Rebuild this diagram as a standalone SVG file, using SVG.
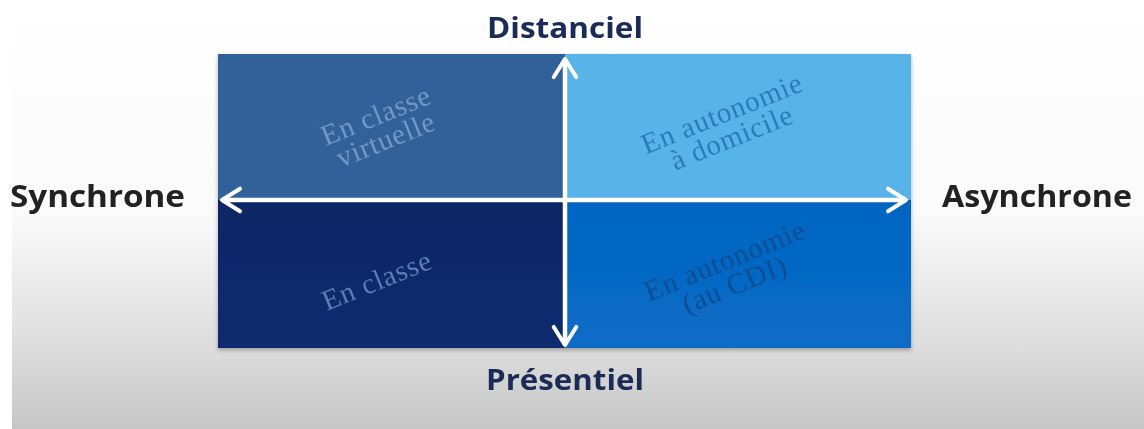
<svg xmlns="http://www.w3.org/2000/svg" width="1144" height="429" viewBox="0 0 1144 429">
<defs>
<linearGradient id="bg" x1="0" y1="0" x2="0" y2="1">
<stop offset="0" stop-color="#ffffff"/>
<stop offset="0.5" stop-color="#fafafa"/>
<stop offset="0.78" stop-color="#e0e0e0"/>
<stop offset="1" stop-color="#c6c6c6"/>
</linearGradient>
<linearGradient id="gbl" x1="0" y1="0" x2="0" y2="1">
<stop offset="0" stop-color="#0b2565"/>
<stop offset="1" stop-color="#0e2c6e"/>
</linearGradient>
<linearGradient id="gbr" x1="0" y1="0" x2="0" y2="1">
<stop offset="0" stop-color="#0465c2"/>
<stop offset="1" stop-color="#086cc6"/>
</linearGradient>
<marker id="ah" viewBox="0 0 12 12" refX="10" refY="6" markerWidth="6" markerHeight="6.5" markerUnits="strokeWidth" orient="auto-start-reverse">
<path d="M2,1 L10,6 L2,11" fill="none" stroke="#ffffff" stroke-width="1.8" stroke-linecap="round" stroke-linejoin="round"/>
</marker>
<filter id="sh" x="-5%" y="-5%" width="110%" height="115%">
<feDropShadow dx="0" dy="2" stdDeviation="2" flood-color="#000" flood-opacity="0.3"/>
</filter>
</defs>
<style>
.axis{font-family:"Open Sans","Liberation Sans",sans-serif;font-weight:bold;}
.q{font-family:"Liberation Serif",serif;font-size:29px;letter-spacing:0.8px;text-anchor:middle;}
</style>
<rect width="1144" height="429" fill="#ffffff"/>
<rect x="12" y="0" width="1132" height="429" fill="url(#bg)"/>
<g filter="url(#sh)">
<g id="q-tl"><rect x="218" y="54" width="347" height="146" fill="#336199"/>
<text class="q" fill="#7299c6" transform="translate(381,128) rotate(-22)"><tspan x="0" y="-4">En classe</tspan><tspan x="0" y="22">virtuelle</tspan></text></g>
<g id="q-tr"><rect x="565" y="54" width="346" height="146" fill="#59b3e9"/>
<text class="q" fill="#2c7bb8" transform="translate(727,126) rotate(-22)"><tspan x="0" y="-4">En autonomie</tspan><tspan x="0" y="22">à domicile</tspan></text></g>
<g id="q-bl"><rect x="218" y="200" width="347" height="148" fill="url(#gbl)"/>
<text class="q" fill="#5a7db3" transform="translate(377,281) rotate(-22)"><tspan x="0" y="9">En classe</tspan></text></g>
<g id="q-br"><rect x="565" y="200" width="346" height="148" fill="url(#gbr)"/>
<text class="q" fill="#0b4d93" transform="translate(730,273) rotate(-22)"><tspan x="0" y="-4">En autonomie</tspan><tspan x="0" y="22">(au CDI)</tspan></text></g>
</g>
<g id="connectors" stroke="#ffffff" stroke-width="4.5" fill="none">
<line x1="222" y1="200" x2="906" y2="200" marker-start="url(#ah)" marker-end="url(#ah)"/>
<line x1="565" y1="59" x2="565" y2="345" marker-start="url(#ah)" marker-end="url(#ah)"/>
</g>
<g id="label-top"><text class="axis" x="565" y="38" font-size="29" fill="#1b2b57" text-anchor="middle" textLength="156" lengthAdjust="spacingAndGlyphs">Distanciel</text></g>
<g id="label-bottom"><text class="axis" x="565" y="390" font-size="29" fill="#1b2b57" text-anchor="middle" textLength="158" lengthAdjust="spacingAndGlyphs">Présentiel</text></g>
<g id="label-left"><text class="axis" x="10" y="207" font-size="30" fill="#222222" textLength="175" lengthAdjust="spacingAndGlyphs">Synchrone</text></g>
<g id="label-right"><text class="axis" x="942" y="207" font-size="30" fill="#222222" textLength="190" lengthAdjust="spacingAndGlyphs">Asynchrone</text></g>
</svg>
